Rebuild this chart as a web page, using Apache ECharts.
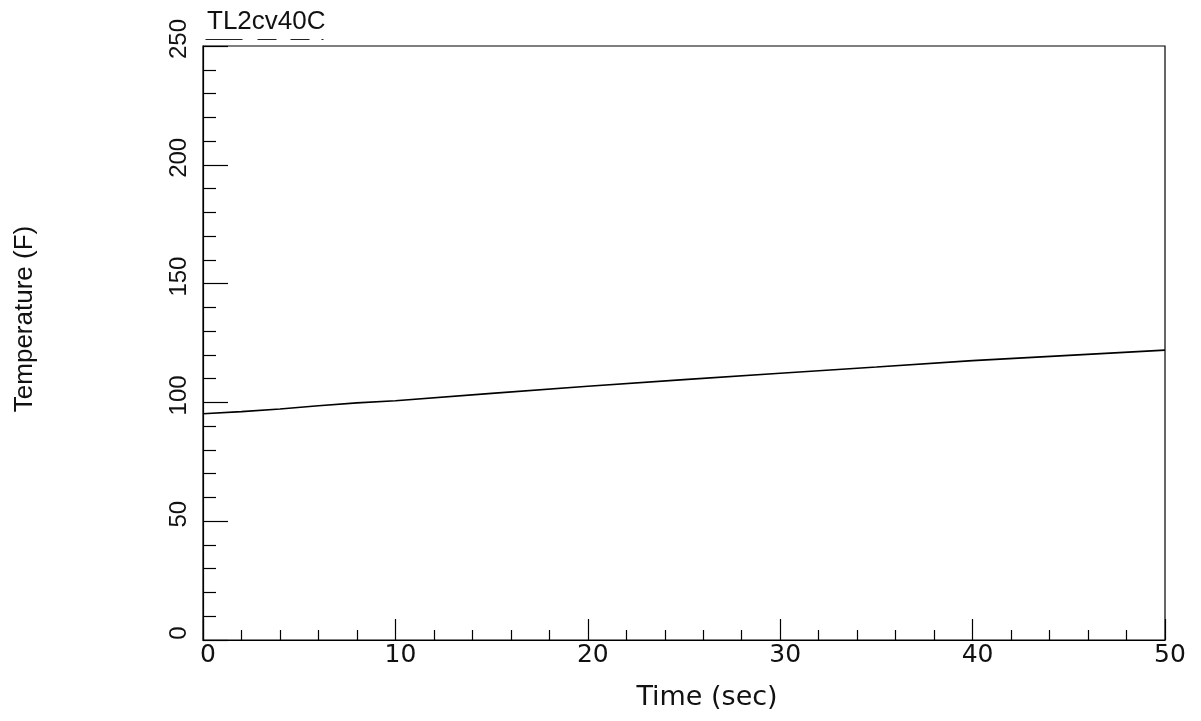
<!DOCTYPE html>
<html>
<head>
<meta charset="utf-8">
<script src="https://cdn.jsdelivr.net/npm/echarts@6/dist/echarts.min.js"></script>
<style>html,body{margin:0;padding:0;background:#fff}#c{width:1201px;height:721px}</style>
</head>
<body>
<div id="c"></div>
<script>
var seriesName = 'TL2cv40C';
var times = [0, 2, 4, 6, 8, 10, 15, 20, 25, 30, 35, 40, 45, 50];
var temps = [95.2, 96.1, 97.2, 98.6, 99.8, 100.7, 103.8, 106.8, 109.6, 112.3, 114.9, 117.6, 119.8, 122.0];
var xTicks = [0, 10, 20, 30, 40, 50];
var yTicks = [0, 50, 100, 150, 200, 250];

var data = times.map(function (t, i) { return [t, temps[i]]; });
var chart = echarts.init(document.getElementById('c'), null, {renderer: 'canvas'});
chart.setOption({
  backgroundColor: '#fff',
  animation: false,
  title: {
    text: seriesName, left: 202, top: 4,
    textStyle: {fontFamily: 'Liberation Sans', fontSize: 26, fontWeight: 'normal', color: '#111'}
  },
  graphic: [{
    type: 'line', left: 203, top: 37,
    shape: {x1: 0, y1: 0, x2: 118, y2: 0},
    style: {stroke: '#222', lineWidth: 1.2, lineDash: [37, 15, 19, 14, 19, 12, 2, 100]}
  }],
  grid: {left: 203, right: 36, top: 46, bottom: 81, show: true, borderColor: '#000', borderWidth: 1.2, backgroundColor: 'transparent'},
  xAxis: {
    type: 'value', min: xTicks[0], max: xTicks[xTicks.length - 1], interval: 10,
    name: 'Time (sec)', nameLocation: 'middle', nameGap: 44,
    nameTextStyle: {fontFamily: 'DejaVu Sans', fontSize: 27, color: '#111', padding: [0, 0, 0, 46]},
    axisLine: {lineStyle: {color: '#000', width: 1.2}},
    axisTick: {inside: true, length: 21, lineStyle: {color: '#000', width: 1.2}},
    minorTick: {show: true, splitNumber: 5, length: 10, lineStyle: {color: '#000', width: 1.2}},
    axisLabel: {fontFamily: 'DejaVu Sans', fontSize: 25, color: '#111', margin: 3, padding: [0, 0, 0, 10]},
    splitLine: {show: false}
  },
  yAxis: {
    type: 'value', min: yTicks[0], max: yTicks[yTicks.length - 1], interval: 50,
    name: 'Temperature (F)', nameLocation: 'middle', nameGap: 165,
    nameTextStyle: {fontFamily: 'Liberation Sans', fontSize: 26, color: '#111', padding: [0, 0, 0, 48]},
    axisLine: {lineStyle: {color: '#000', width: 1.2}},
    axisTick: {inside: true, length: 25, lineStyle: {color: '#000', width: 1.2}},
    minorTick: {show: true, splitNumber: 5, length: 13, lineStyle: {color: '#000', width: 1.2}},
    axisLabel: {fontFamily: 'Liberation Sans', fontSize: 24, color: '#111', rotate: 90, margin: 12, padding: [0, 0, 0, 14]},
    splitLine: {show: false}
  },
  series: [{
    name: seriesName, type: 'line', data: data, showSymbol: false, smooth: false,
    lineStyle: {color: '#000', width: 1.6}
  }]
});
</script>
</body>
</html>
